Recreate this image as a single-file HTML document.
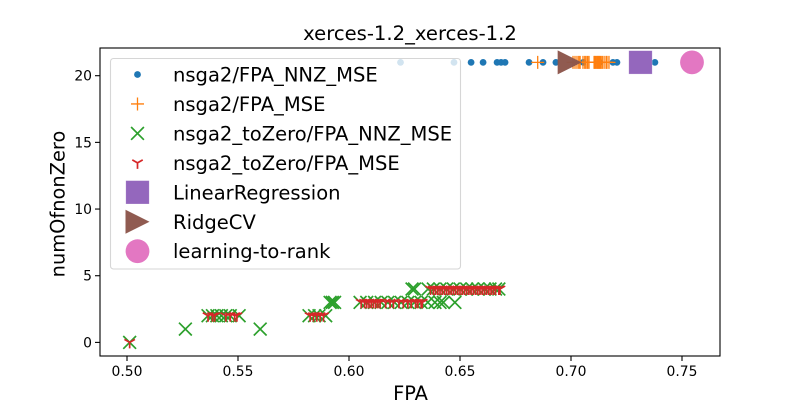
<!DOCTYPE html>
<html>
<head>
<meta charset="utf-8">
<style>
html,body{margin:0;padding:0;background:#fff;width:800px;height:400px;overflow:hidden}
svg{display:block}
text{font-family:"DejaVu Sans","Liberation Sans",sans-serif;fill:#000}
</style>
</head>
<body>
<svg id="chart" width="800" height="400" viewBox="0 0 800 400" xmlns="http://www.w3.org/2000/svg">
<rect x="0" y="0" width="800" height="400" fill="#fff"/>
<text x="410" y="40" font-size="19.6" text-anchor="middle">xerces-1.2_xerces-1.2</text>
<text x="410.5" y="400" font-size="19.4" text-anchor="middle">FPA</text>
<text x="64.5" y="204" font-size="19.4" text-anchor="middle" transform="rotate(-90 64.5 204)">numOfnonZero</text>
<g id="ticks"></g>
<g id="marks"></g>
<g id="legend"></g>
<rect x="100" y="48" width="620" height="308" fill="none" stroke="#000" stroke-width="1.1"/>
</svg>
<script>
const xTickValues = [0.50, 0.55, 0.60, 0.65, 0.70, 0.75];
const xTickLabels = ['0.50', '0.55', '0.60', '0.65', '0.70', '0.75'];
const yTickValues = [0, 5, 10, 15, 20];
const yTickLabels = ['0', '5', '10', '15', '20'];
const seriesNames = ['nsga2/FPA_NNZ_MSE', 'nsga2/FPA_MSE', 'nsga2_toZero/FPA_NNZ_MSE', 'nsga2_toZero/FPA_MSE', 'LinearRegression', 'RidgeCV', 'learning-to-rank'];

const nnzX = [0.6232, 0.6473, 0.655, 0.6604, 0.6667, 0.6685, 0.6703, 0.6811, 0.6874, 0.6932, 0.7055, 0.713, 0.7189, 0.7207, 0.7378];
const nnzY = [21, 21, 21, 21, 21, 21, 21, 21, 21, 21, 21, 21, 21, 21, 21];

const mseX = [0.685, 0.7009, 0.7018, 0.7027, 0.7035, 0.7041, 0.7054, 0.7062, 0.7068, 0.7075, 0.7081, 0.7104, 0.7108, 0.7113, 0.7118, 0.7122, 0.7126, 0.713, 0.7135, 0.7141, 0.7149, 0.7158, 0.7162, 0.7171];
const mseY = [21, 21, 21, 21, 21, 21, 21, 21, 21, 21, 21, 21, 21, 21, 21, 21, 21, 21, 21, 21, 21, 21, 21, 21];

const zeroNnzX = [0.5012, 0.5263, 0.56,
  0.5365, 0.5385, 0.5405, 0.5425, 0.5445, 0.5465, 0.5505,
  0.582, 0.5845, 0.5865, 0.5895,
  0.5915, 0.5925, 0.5935,
  0.605, 0.608, 0.6115, 0.6145, 0.6175, 0.6205, 0.6235, 0.6265, 0.6295, 0.6325, 0.6355, 0.6387, 0.641, 0.6425, 0.6477,
  0.6284, 0.6295,
  0.6356, 0.638, 0.641, 0.644, 0.647, 0.65, 0.653, 0.6555, 0.658, 0.661, 0.6635, 0.666, 0.6675];
const zeroNnzY = [0, 1, 1,
  2, 2, 2, 2, 2, 2, 2,
  2, 2, 2, 2,
  3, 3, 3,
  3, 3, 3, 3, 3, 3, 3, 3, 3, 3, 3, 3, 3, 3, 3,
  4, 4,
  4, 4, 4, 4, 4, 4, 4, 4, 4, 4, 4, 4, 4];

const zeroMseX = [0.5012,
  0.5365, 0.5385, 0.5395, 0.5445, 0.5465, 0.5485, 0.5495,
  0.5825, 0.584, 0.5855, 0.587, 0.5885,
  0.6055, 0.607, 0.608, 0.609, 0.61, 0.611, 0.612, 0.613, 0.614, 0.6165, 0.6185, 0.62, 0.6225, 0.6245, 0.6265, 0.628, 0.63, 0.631, 0.6325, 0.633,
  0.6367, 0.638, 0.639, 0.64, 0.641, 0.642, 0.643, 0.644, 0.645, 0.646, 0.647, 0.648, 0.649, 0.65, 0.651, 0.652, 0.653, 0.654, 0.655, 0.656, 0.657, 0.658, 0.659, 0.66, 0.661, 0.662, 0.663, 0.664, 0.665, 0.666, 0.6675, 0.668];
const zeroMseY = [0,
  2, 2, 2, 2, 2, 2, 2,
  2, 2, 2, 2, 2,
  3, 3, 3, 3, 3, 3, 3, 3, 3, 3, 3, 3, 3, 3, 3, 3, 3, 3, 3, 3,
  4, 4, 4, 4, 4, 4, 4, 4, 4, 4, 4, 4, 4, 4, 4, 4, 4, 4, 4, 4, 4, 4, 4, 4, 4, 4, 4, 4, 4, 4, 4, 4];

const linearX = [0.7313];
const linearY = [21];
const ridgeX = [0.6994];
const ridgeY = [21];
const rankX = [0.7545];
const rankY = [21];

const NS = 'http://www.w3.org/2000/svg';
function xScale(v) { return 127 + (v - 0.5) * 2220; }
function yScale(v) { return 342.4 - v * 13.335; }
function make(tag, attrs, parent) {
  const el = document.createElementNS(NS, tag);
  for (const k in attrs) el.setAttribute(k, attrs[k]);
  parent.appendChild(el);
  return el;
}
const COLORS = { blue: '#1f77b4', orange: '#ff7f0e', green: '#2ca02c', red: '#d62728', purple: '#9467bd', brown: '#8c564b', pink: '#e377c2' };

function drawDot(p, cx, cy) { return make('circle', { cx: cx, cy: cy, r: 3.4, fill: COLORS.blue }, p); }
function drawPlus(p, cx, cy) {
  const d = 'M' + (cx - 6.5) + ' ' + cy + 'H' + (cx + 6.5) + 'M' + cx + ' ' + (cy - 6.5) + 'V' + (cy + 6.5);
  return make('path', { d: d, stroke: COLORS.orange, 'stroke-width': 1.3, fill: 'none' }, p);
}
function drawCross(p, cx, cy) {
  const r = 6.4;
  const d = 'M' + (cx - r) + ' ' + (cy - r) + 'L' + (cx + r) + ' ' + (cy + r) + 'M' + (cx - r) + ' ' + (cy + r) + 'L' + (cx + r) + ' ' + (cy - r);
  return make('path', { d: d, stroke: COLORS.green, 'stroke-width': 1.7, fill: 'none' }, p);
}
function drawTri(p, cx, cy) {
  const r = 6;
  const d = 'M' + cx + ' ' + cy + 'V' + (cy + r) + 'M' + cx + ' ' + cy + 'L' + (cx + r * 0.87) + ' ' + (cy - r * 0.5) + 'M' + cx + ' ' + cy + 'L' + (cx - r * 0.87) + ' ' + (cy - r * 0.5);
  return make('path', { d: d, stroke: COLORS.red, 'stroke-width': 1.7, fill: 'none' }, p);
}
function drawSquare(p, cx, cy) { return make('rect', { x: cx - 11.7, y: cy - 11.7, width: 23.4, height: 23.4, fill: COLORS.purple, stroke: '#fff', 'stroke-opacity': 0.4, 'stroke-width': 0.6 }, p); }
function drawTriangle(p, cx, cy) {
  const r = 12;
  return make('polygon', { points: (cx - r) + ',' + (cy - r) + ' ' + (cx + r) + ',' + cy + ' ' + (cx - r) + ',' + (cy + r), fill: COLORS.brown, 'fill-opacity': 0.97 }, p);
}
function drawCircle(p, cx, cy) { return make('circle', { cx: cx, cy: cy, r: 11.9, fill: COLORS.pink }, p); }

const ticks = document.getElementById('ticks');
xTickValues.forEach(function (v, i) {
  const px = xScale(v);
  const tick = make('line', { x1: px, x2: px, y1: 356, y2: 361, stroke: '#000', 'stroke-width': 1.1 }, ticks);
  
  
  const label = make('text', { x: px, y: 376, 'font-size': 13.9, 'text-anchor': 'middle' }, ticks);
  label.textContent = xTickLabels[i];
  
  
});
yTickValues.forEach(function (v, i) {
  const py = yScale(v);
  const tick = make('line', { x1: 95, x2: 100, y1: py, y2: py, stroke: '#000', 'stroke-width': 1.1 }, ticks);
  
  
  const label = make('text', { x: 92, y: py + 5, 'font-size': 13.9, 'text-anchor': 'end' }, ticks);
  label.textContent = yTickLabels[i];
  
  
});

const marks = document.getElementById('marks');
function drawSeries(name, xs, ys, painter) {
  const g = make('g', {}, marks);
  
  
  xs.forEach(function (x, i) {
    const m = painter(g, xScale(x), yScale(ys[i]));
    
    
  });
}
drawSeries('series-nsga2-fpa-nnz-mse', nnzX, nnzY, drawDot);
drawSeries('series-nsga2-fpa-mse', mseX, mseY, drawPlus);
drawSeries('series-tozero-fpa-nnz-mse', zeroNnzX, zeroNnzY, drawCross);
drawSeries('series-tozero-fpa-mse', zeroMseX, zeroMseY, drawTri);
drawSeries('series-linear-regression', linearX, linearY, drawSquare);
drawSeries('series-ridge-cv', ridgeX, ridgeY, drawTriangle);
drawSeries('series-learning-to-rank', rankX, rankY, drawCircle);

const legend = document.getElementById('legend');
const frame = make('rect', { x: 110.5, y: 58.5, width: 350, height: 210.5, rx: 3, ry: 3, fill: '#fff', 'fill-opacity': 0.8, stroke: '#ccc', 'stroke-opacity': 0.8, 'stroke-width': 1.1 }, legend);


const painters = [drawDot, drawPlus, drawCross, drawTri, drawSquare, drawTriangle, drawCircle];
seriesNames.forEach(function (name, i) {
  const cy = 74.5 + i * 29.45;
  const entry = make('g', {}, legend);
  
  
  const key = painters[i](entry, 137.5, cy);
  
  
  const t = make('text', { x: 173, y: cy + 7, 'font-size': 19.55 }, entry);
  t.textContent = name;
  
  
});
</script>
</body>
</html>
